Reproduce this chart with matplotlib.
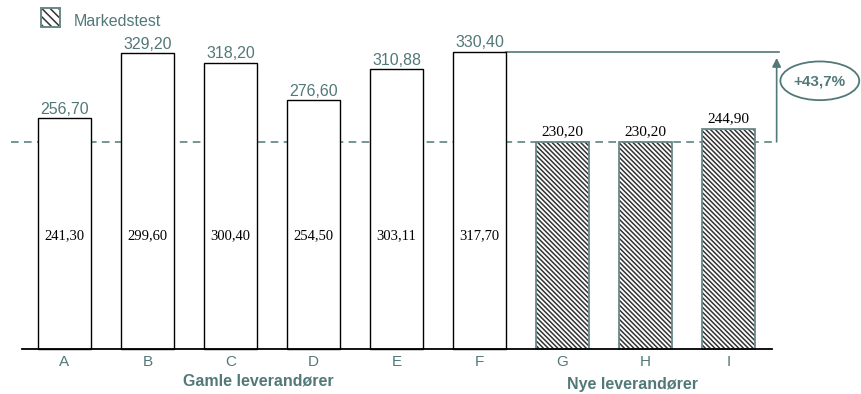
import matplotlib.pyplot as plt
from matplotlib.patches import Ellipse, Rectangle

plt.rcParams['hatch.linewidth'] = 1.1

# --------------------------------------------------------------------------------------------------
# Data
categories = ['A', 'B', 'C', 'D', 'E', 'F', 'G', 'H', 'I']
top_values = [256.70, 329.20, 318.20, 276.60, 310.88, 330.40, 230.20, 230.20, 244.90]
inner_values = [241.30, 299.60, 300.40, 254.50, 303.11, 317.70]
market_test = [False, False, False, False, False, False, True, True, True]
increase_label = '+43,7%'
group_labels = ['Gamle leverandører', 'Nye leverandører']
legend_label = 'Markedstest'

teal = '#527878'
hatch_edge = '#6a8888'
hatch_ink = '#333333'

def fmt(v):
    return ('%.2f' % v).replace('.', ',')

# --------------------------------------------------------------------------------------------------
fig = plt.figure(figsize=(8.61, 3.94), dpi=100)
ax = fig.add_axes([0, 0, 1, 1])
# one category step is 83 px, one unit of value is 0.9 px
ax.set_xlim(-64.5 / 83, (861 - 64.5) / 83)
ax.set_ylim(-45 / 0.9, (394 - 45) / 0.9)
ax.axis('off')

x = list(range(len(categories)))
width = 0.64
bar_hatch = '\\' * 7

for xi, v, mt in zip(x, top_values, market_test):
    if mt:
        ax.bar(xi, v, width, color='white', edgecolor=hatch_ink, hatch=bar_hatch,
               linewidth=0, zorder=2)
        ax.bar(xi, v, width, fill=False, edgecolor=hatch_edge, linewidth=1.3, zorder=2)
    else:
        ax.bar(xi, v, width, color='white', edgecolor='black', linewidth=1.0, zorder=2)

# Baseline
ax.plot([-0.515, 8.52], [0, 0], color='black', lw=1.3, zorder=3)

# Value labels on top of the bars
for xi, v, mt in zip(x, top_values, market_test):
    if mt:
        ax.annotate(fmt(v), (xi, v), xytext=(0, 4.5), textcoords='offset points',
                    ha='center', va='baseline', fontsize=11, family='Liberation Serif',
                    color='black', zorder=4)
    else:
        ax.annotate(fmt(v), (xi, v), xytext=(0, 3), textcoords='offset points',
                    ha='center', va='baseline', fontsize=11.5, family='Liberation Sans',
                    color=teal, zorder=4)

# Values inside the old-supplier bars
for xi, v in zip(x, inner_values):
    ax.text(xi, 125.5, fmt(v), ha='center', va='center', fontsize=10.5,
            family='Liberation Serif', color='black', zorder=4)

# Category labels
for xi, c in zip(x, categories):
    ax.text(xi, -14.5, c, ha='center', va='center', fontsize=11,
            family='Liberation Sans', color=teal)

ax.text(2.33, -35.5, group_labels[0], ha='center', va='center', fontsize=11.5,
        fontweight='bold', family='Liberation Sans', color=teal)
ax.text(6.84, -40, group_labels[1], ha='center', va='center', fontsize=11.5,
        fontweight='bold', family='Liberation Sans', color=teal)

# Reference lines and increase arrow
low = min(top_values)
high = max(top_values)
x_arrow = 8.58
ax.plot([-0.64, x_arrow], [low, low], color=teal, lw=1.1, ls=(0, (5, 3.5)), zorder=1)
ax.plot([5.32, 8.61], [high, high], color=teal, lw=1.2, zorder=1)
ax.annotate('', xy=(x_arrow, high - 7), xytext=(x_arrow, low),
            arrowprops=dict(arrowstyle='-|>', color=teal, lw=1.2,
                            mutation_scale=13, shrinkA=0, shrinkB=0))
ax.add_patch(Ellipse((9.10, 298), 0.95, 43, facecolor='white', edgecolor=teal,
                     lw=1.3, zorder=3))
ax.text(9.10, 297, increase_label, ha='center', va='center', fontsize=11,
        fontweight='bold', family='Liberation Sans', color=teal, zorder=4)

# Legend
fig.patches.append(Rectangle((41 / 861, 1 - 27 / 394), 19 / 861, 19 / 394,
                             transform=fig.transFigure, facecolor='white',
                             edgecolor=hatch_ink, hatch='\\' * 4, lw=0))
fig.patches.append(Rectangle((41 / 861, 1 - 27 / 394), 19 / 861, 19 / 394,
                             transform=fig.transFigure, fill=False,
                             edgecolor=hatch_edge, lw=1.4))
fig.text(74 / 861, 1 - 21 / 394, legend_label, ha='left', va='center', fontsize=11.5,
         family='Liberation Sans', color=teal)

fig.savefig('out.png', dpi=100)
